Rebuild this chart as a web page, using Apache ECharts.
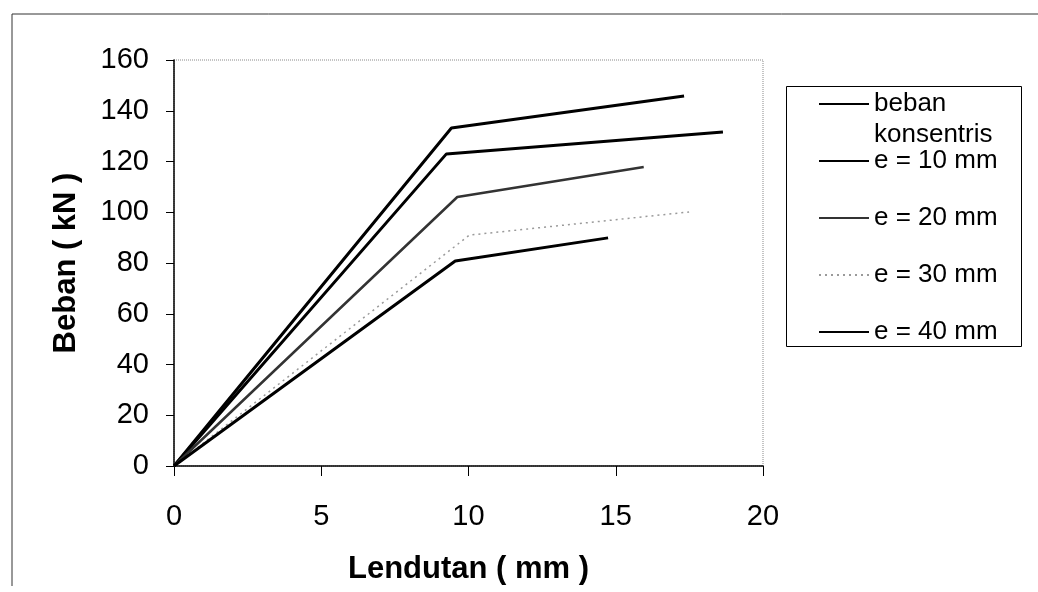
<!DOCTYPE html>
<html>
<head>
<meta charset="utf-8">
<title>Beban - Lendutan</title>
<script src="https://cdn.jsdelivr.net/npm/echarts@6/dist/echarts.min.js"></script>
<style>
    html, body { margin: 0; padding: 0; background: #fff; }
    #chartDiv { width: 1038px; height: 592px; }
</style>
</head>
<body>
<div id="chartDiv"></div>
<script>
    // data: [lendutan (mm), beban (kN)]
    var seriesNames = ['beban konsentris', 'e = 10 mm', 'e = 20 mm', 'e = 30 mm', 'e = 40 mm'];
    var konsentris = [[0, 0], [9.42, 133.2], [17.32, 145.8]];
    var e10 = [[0, 0], [9.25, 123.0], [18.64, 131.6]];
    var e20 = [[0, 0], [9.62, 106.0], [15.95, 117.8]];
    var e30 = [[0, 0], [10.03, 91.0], [17.49, 100.1]];
    var e40 = [[0, 0], [9.55, 80.8], [14.74, 89.9]];
    var xTicks = { min: 0, max: 20, interval: 5 };
    var yTicks = { min: 0, max: 160, interval: 20 };

    var font = 'Liberation Sans, Arial, sans-serif';

    // line look per series
    var lineStyles = [
        { color: '#000', width: 3, type: 'solid' },
        { color: '#000', width: 3, type: 'solid' },
        { color: '#333', width: 2.5, type: 'solid' },
        { color: '#9a9a9a', width: 1.5, type: [2, 4] },
        { color: '#000', width: 3, type: 'solid' }
    ];
    var seriesData = [konsentris, e10, e20, e30, e40];

    var series = [];
    for (var i = 0; i < seriesNames.length; i++) {
        series.push({
            name: seriesNames[i],
            type: 'line',
            data: seriesData[i],
            symbol: 'none',
            lineStyle: lineStyles[i],
            itemStyle: { color: lineStyles[i].color },
            animation: false
        });
    }

    // every legend entry is 3 lines tall so the gaps come out even;
    // the first one wraps, with its icon on "beban"
    var legendData = [];
    for (var j = 0; j < seriesNames.length; j++) {
        legendData.push({
            name: seriesNames[j],
            textStyle: { padding: j === 0 ? 0 : [31, 0, 31, 0] }
        });
    }

    var chart = echarts.init(document.getElementById('chartDiv'));
    chart.setOption({
        backgroundColor: '#fff',
        animation: false,
        grid: {
            left: 174, right: 275, top: 60, bottom: 126,
            show: true,
            borderColor: '#8a8a8a',
            borderWidth: 1,
            borderType: 'dotted'
        },
        legend: {
            orient: 'vertical',
            left: 818,
            top: 57.5,
            padding: 0,
            itemGap: -36,
            itemWidth: 50,
            itemHeight: 14,
            itemStyle: { opacity: 0 },
            data: legendData,
            formatter: function (name) {
                return name === 'beban konsentris' ? ' \nbeban\nkonsentris' : name;
            },
            textStyle: { fontFamily: font, fontSize: 26, color: '#000', lineHeight: 31 }
        },
        xAxis: {
            type: 'value',
            min: xTicks.min, max: xTicks.max, interval: xTicks.interval,
            name: 'Lendutan ( mm )',
            nameLocation: 'middle',
            nameGap: 88,
            nameTextStyle: { fontFamily: font, fontSize: 31, fontWeight: 'bold', color: '#000' },
            axisLine: { lineStyle: { color: '#000', width: 1.5 } },
            axisTick: { show: true, length: 10, lineStyle: { color: '#000' } },
            axisLabel: { margin: 36, fontFamily: font, fontSize: 29, color: '#000' },
            splitLine: { show: false }
        },
        yAxis: {
            type: 'value',
            min: yTicks.min, max: yTicks.max, interval: yTicks.interval,
            name: 'Beban ( kN )',
            nameLocation: 'middle',
            nameGap: 92,
            nameTextStyle: { fontFamily: font, fontSize: 31, fontWeight: 'bold', color: '#000' },
            axisLine: { show: true, lineStyle: { color: '#000', width: 1.5 } },
            axisTick: { show: true, length: 8, lineStyle: { color: '#000' } },
            axisLabel: { margin: 25, fontFamily: font, fontSize: 29, color: '#000' },
            splitLine: { show: false }
        },
        graphic: [
            // outer chart frame (top and left edge only, the scan cuts the rest)
            { type: 'line', shape: { x1: 12, y1: 14, x2: 1038, y2: 14 }, style: { stroke: '#333', lineWidth: 1 } },
            { type: 'line', shape: { x1: 12, y1: 14, x2: 12, y2: 586 }, style: { stroke: '#333', lineWidth: 1 } },
            // legend box
            { type: 'rect', shape: { x: 786.5, y: 86.5, width: 235, height: 260 }, style: { fill: 'none', stroke: '#000', lineWidth: 1 }, z: 1 }
        ],
        series: series
    });
</script>
</body>
</html>
